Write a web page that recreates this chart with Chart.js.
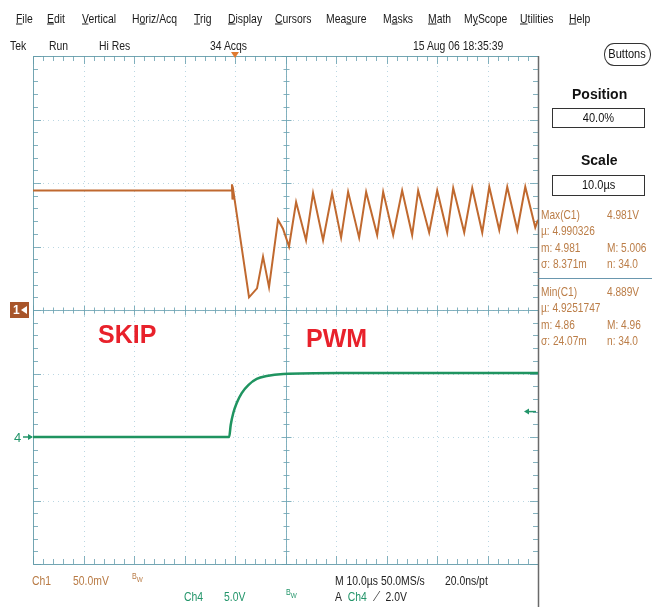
<!DOCTYPE html>
<html>
<head>
<meta charset="utf-8">
<script src="https://cdn.jsdelivr.net/npm/chart.js@4"></script>
<style>
  html,body{margin:0;padding:0;background:#fff;}
  #wrap{position:relative;width:652px;height:607px;overflow:hidden;background:#fff;
        font-family:"Liberation Sans",Arial,sans-serif;}
  #c{position:absolute;left:0;top:0;}
  .t{position:absolute;white-space:nowrap;transform:translateY(-50%) scaleX(0.8);transform-origin:left center;
     font-size:13px;color:#222;line-height:1;}
  .menu{color:#1a1a1a;}
  .meas{color:#bb7d47;transform:translateY(-50%) scaleX(0.78);}
  .ch1{color:#b87a44;}
  .ch4{color:#23956a;}
  .big{font-weight:bold;font-size:25px;color:#e8212b;transform:translateY(-50%);}
  .hdr{font-weight:bold;font-size:14px;color:#111;transform:translateY(-50%);}
  .box{position:absolute;border:1.5px solid #333;box-sizing:border-box;text-align:center;
       font-size:13px;color:#111;}
  .box span{display:inline-block;transform:scaleX(0.85);}
  .bw{font-size:9px;}
</style>
</head>
<body>
<div id="wrap">
<canvas id="c" width="652" height="607"></canvas>

<!-- menu bar -->
<div class="t menu" style="left:16px;top:18px"><u>F</u>ile</div>
<div class="t menu" style="left:47px;top:18px"><u>E</u>dit</div>
<div class="t menu" style="left:82px;top:18px"><u>V</u>ertical</div>
<div class="t menu" style="left:132px;top:18px">H<u>o</u>riz/Acq</div>
<div class="t menu" style="left:194px;top:18px"><u>T</u>rig</div>
<div class="t menu" style="left:228px;top:18px"><u>D</u>isplay</div>
<div class="t menu" style="left:275px;top:18px"><u>C</u>ursors</div>
<div class="t menu" style="left:326px;top:18px">Mea<u>s</u>ure</div>
<div class="t menu" style="left:383px;top:18px">M<u>a</u>sks</div>
<div class="t menu" style="left:428px;top:18px"><u>M</u>ath</div>
<div class="t menu" style="left:464px;top:18px">M<u>y</u>Scope</div>
<div class="t menu" style="left:520px;top:18px"><u>U</u>tilities</div>
<div class="t menu" style="left:569px;top:18px"><u>H</u>elp</div>

<!-- status row -->
<div class="t" style="left:10px;top:45px">Tek</div>
<div class="t" style="left:49px;top:45px">Run</div>
<div class="t" style="left:99px;top:45px">Hi Res</div>
<div class="t" style="left:210px;top:45px">34 Acqs</div>
<div class="t" style="left:413px;top:45px">15 Aug 06 18:35:39</div>
<div class="box" style="left:604px;top:43px;width:47px;height:23px;border-radius:10px/11px;line-height:20px;font-size:13px;"><span>Buttons</span></div>

<!-- right panel -->
<div class="t hdr" style="left:572px;top:94px">Position</div>
<div class="box" style="left:552px;top:108px;width:93px;height:20px;line-height:17px;"><span>40.0%</span></div>
<div class="t hdr" style="left:581px;top:160px">Scale</div>
<div class="box" style="left:552px;top:175px;width:93px;height:21px;line-height:18px;"><span>10.0µs</span></div>

<div class="t meas" style="left:541px;top:214px">Max(C1)</div>
<div class="t meas" style="left:607px;top:214px">4.981V</div>
<div class="t meas" style="left:541px;top:230px">µ: 4.990326</div>
<div class="t meas" style="left:541px;top:247px">m: 4.981</div>
<div class="t meas" style="left:607px;top:247px">M: 5.006</div>
<div class="t meas" style="left:541px;top:263px">σ: 8.371m</div>
<div class="t meas" style="left:607px;top:263px">n: 34.0</div>

<div class="t meas" style="left:541px;top:291px">Min(C1)</div>
<div class="t meas" style="left:607px;top:291px">4.889V</div>
<div class="t meas" style="left:541px;top:307px">µ: 4.9251747</div>
<div class="t meas" style="left:541px;top:324px">m: 4.86</div>
<div class="t meas" style="left:607px;top:324px">M: 4.96</div>
<div class="t meas" style="left:541px;top:340px">σ: 24.07m</div>
<div class="t meas" style="left:607px;top:340px">n: 34.0</div>

<!-- annotations -->
<div class="t big" style="left:98px;top:334px">SKIP</div>
<div class="t big" style="left:306px;top:338px">PWM</div>

<!-- bottom status -->
<div class="t ch1" style="left:32px;top:580px">Ch1</div>
<div class="t ch1" style="left:73px;top:580px">50.0mV</div>
<div class="t ch1 bw" style="left:132px;top:578px">B<sub style="font-size:8px">W</sub></div>
<div class="t" style="left:335px;top:580px">M 10.0µs 50.0MS/s</div>
<div class="t" style="left:445px;top:580px">20.0ns/pt</div>
<div class="t ch4" style="left:184px;top:596px">Ch4</div>
<div class="t ch4" style="left:224px;top:596px">5.0V</div>
<div class="t ch4 bw" style="left:286px;top:594px">B<sub style="font-size:8px">W</sub></div>
<div class="t" style="left:335px;top:596px">A&nbsp; <span class="ch4">Ch4</span>&nbsp; ⟋&nbsp; 2.0V</div>
</div>

<script>
// ---- Data (time in µs, trigger at 0) ----
const ch1Time  = [-40, -0.7, -0.6, -0.5, -0.3, 2.78, 4.36, 5.55, 6.74, 8.52, 9.5,
  10.7, 12.1, 14.07, 15.46, 17.44, 19.23, 21.01, 22.40, 24.58, 25.97, 28.15, 29.34,
  31.32, 33.10, 35.08, 36.27, 38.45, 40.04, 42.02, 43.21, 45.39, 46.98, 48.96, 50.35,
  52.33, 53.91, 55.90, 57.48, 59.46, 60];
const ch1Volts = [4.981, 4.981, 4.986, 4.974, 4.980, 4.897, 4.904, 4.929, 4.905, 4.958, 4.951,
  4.937, 4.972, 4.942, 4.979, 4.942, 4.979, 4.944, 4.980, 4.944, 4.980, 4.946, 4.980,
  4.946, 4.981, 4.946, 4.981, 4.948, 4.981, 4.948, 4.983, 4.948, 4.983, 4.948, 4.984,
  4.950, 4.984, 4.950, 4.984, 4.952, 4.958];
const ch4Time  = [-40, -1.15, -0.85, -0.34, 0.34, 1.33, 2.64, 4.30, 6.28, 9.57, 20.8, 60];
const ch4Volts = [0, 0, 0.94, 1.89, 2.68, 3.46, 4.09, 4.57, 4.80, 4.96, 5.04, 5.04];

// axis settings
const timeRange  = [-40, 60];        // 10 µs/div, 10 divisions, trigger at 40%
const ch1Range   = [4.687, 5.087];   // 50 mV/div, 8 divisions
const ch4Range   = [-10, 30];        // 5 V/div, 8 divisions
const ch1Offset  = 4.887;            // Ch1 reference marker level
const trigLevel  = 2.0;              // Ch4 trigger level
const timeDiv = 10, voltDiv = 5;

const orangePts = ch1Time.map((t, i) => ({x: t, y: ch1Volts[i]}));
const greenPts  = ch4Time.map((t, i) => ({x: t, y: ch4Volts[i]}));

const gridPlugin = {
  id: 'scopeGrid',
  beforeDatasetsDraw(chart) {
    const {ctx, chartArea: a, scales} = chart;
    const xs = scales.x, ys = scales.y4;
    ctx.save();
    ctx.strokeStyle = 'rgba(120,175,200,0.5)';
    ctx.lineWidth = 1;
    ctx.setLineDash([1, 4]);
    for (let t = timeRange[0] + timeDiv; t < timeRange[1]; t += timeDiv) {
      const px = Math.round(xs.getPixelForValue(t)) + 0.5;
      ctx.beginPath(); ctx.moveTo(px, a.top); ctx.lineTo(px, a.bottom); ctx.stroke();
    }
    for (let v = ch4Range[0] + voltDiv; v < ch4Range[1]; v += voltDiv) {
      const py = Math.round(ys.getPixelForValue(v)) + 0.5;
      ctx.beginPath(); ctx.moveTo(a.left, py); ctx.lineTo(a.right, py); ctx.stroke();
    }
    ctx.setLineDash([]);
    const cx = Math.round(xs.getPixelForValue((timeRange[0] + timeRange[1]) / 2)) + 0.5;
    const cy = Math.round(ys.getPixelForValue((ch4Range[0] + ch4Range[1]) / 2)) + 0.5;
    ctx.strokeStyle = 'rgba(110,165,180,0.85)';
    ctx.beginPath(); ctx.moveTo(a.left, cy); ctx.lineTo(a.right, cy); ctx.stroke();
    ctx.beginPath(); ctx.moveTo(cx, a.top); ctx.lineTo(cx, a.bottom); ctx.stroke();
    for (let t = timeRange[0]; t <= timeRange[1] + 1e-9; t += timeDiv / 5) {
      const px = Math.round(xs.getPixelForValue(t)) + 0.5;
      const major = Math.abs((t - timeRange[0]) % timeDiv) < 1e-6;
      const h = major ? 5 : 3;
      ctx.beginPath();
      ctx.moveTo(px, cy - h); ctx.lineTo(px, cy + h);
      ctx.moveTo(px, a.top); ctx.lineTo(px, a.top + (major ? 8 : 5));
      ctx.moveTo(px, a.bottom); ctx.lineTo(px, a.bottom - (major ? 8 : 5));
      ctx.stroke();
    }
    for (let v = ch4Range[0]; v <= ch4Range[1] + 1e-9; v += voltDiv / 5) {
      const py = Math.round(ys.getPixelForValue(v)) + 0.5;
      const major = Math.abs((v - ch4Range[0]) % voltDiv) < 1e-6;
      const h = major ? 5 : 3;
      ctx.beginPath();
      ctx.moveTo(cx - h, py); ctx.lineTo(cx + h, py);
      ctx.moveTo(a.left, py); ctx.lineTo(a.left + (major ? 8 : 5), py);
      ctx.moveTo(a.right, py); ctx.lineTo(a.right - (major ? 8 : 5), py);
      ctx.stroke();
    }
    ctx.strokeStyle = 'rgba(100,155,170,0.9)';
    ctx.beginPath();
    ctx.moveTo(a.right, a.top + 0.5); ctx.lineTo(a.left + 0.5, a.top + 0.5);
    ctx.lineTo(a.left + 0.5, a.bottom + 0.5); ctx.lineTo(a.right, a.bottom + 0.5);
    ctx.stroke();
    ctx.strokeStyle = '#6a6a6a';
    ctx.lineWidth = 1.5;
    ctx.beginPath(); ctx.moveTo(a.right + 0.5, a.top); ctx.lineTo(a.right + 0.5, chart.height); ctx.stroke();
    ctx.strokeStyle = 'rgba(90,140,165,0.9)';
    ctx.lineWidth = 1;
    ctx.beginPath(); ctx.moveTo(a.right, 278.5); ctx.lineTo(chart.width, 278.5); ctx.stroke();
    ctx.restore();
  },
  afterDatasetsDraw(chart) {
    const {ctx, chartArea: a, scales} = chart;
    ctx.save();
    const tx = scales.x.getPixelForValue(0);
    ctx.fillStyle = '#e07a30';
    ctx.beginPath(); ctx.moveTo(tx - 4, a.top - 4); ctx.lineTo(tx + 4, a.top - 4); ctx.lineTo(tx, a.top + 2); ctx.closePath(); ctx.fill();
    const y1 = scales.y1.getPixelForValue(ch1Offset);
    ctx.fillStyle = '#a8552a';
    ctx.fillRect(10, y1 - 8, 19, 16);
    ctx.fillStyle = '#fff';
    ctx.font = 'bold 12px "Liberation Sans", Arial, sans-serif';
    ctx.textBaseline = 'middle';
    ctx.fillText('1', 13, y1 + 1);
    ctx.beginPath(); ctx.moveTo(21, y1); ctx.lineTo(27, y1 - 4); ctx.lineTo(27, y1 + 4); ctx.closePath(); ctx.fill();
    const y4 = scales.y4.getPixelForValue(0);
    ctx.fillStyle = '#23956a';
    ctx.strokeStyle = '#23956a';
    ctx.font = '13px "Liberation Sans", Arial, sans-serif';
    ctx.fillText('4', 14, y4 + 1);
    ctx.lineWidth = 1.5;
    ctx.beginPath(); ctx.moveTo(23, y4); ctx.lineTo(32, y4); ctx.stroke();
    ctx.beginPath(); ctx.moveTo(33, y4); ctx.lineTo(28, y4 - 3); ctx.lineTo(28, y4 + 3); ctx.closePath(); ctx.fill();
    const yt = scales.y4.getPixelForValue(trigLevel);
    ctx.beginPath(); ctx.moveTo(527, yt); ctx.lineTo(536, yt); ctx.stroke();
    ctx.beginPath(); ctx.moveTo(524, yt); ctx.lineTo(529, yt - 3); ctx.lineTo(529, yt + 3); ctx.closePath(); ctx.fill();
    ctx.restore();
  }
};

new Chart(document.getElementById('c'), {
  type: 'scatter',
  data: {
    datasets: [
      { data: orangePts, yAxisID: 'y1', showLine: true, borderColor: '#c0692f',
        borderWidth: 2, pointRadius: 0, tension: 0 },
      { data: greenPts, yAxisID: 'y4', showLine: true, borderColor: '#1f9460',
        borderWidth: 2.5, pointRadius: 0, cubicInterpolationMode: 'monotone' }
    ]
  },
  options: {
    responsive: false,
    animation: false,
    layout: { padding: { left: 33, top: 56, right: 114, bottom: 43 } },
    scales: {
      x:  { type: 'linear', min: timeRange[0], max: timeRange[1], display: false },
      y1: { type: 'linear', min: ch1Range[0], max: ch1Range[1], display: false },
      y4: { type: 'linear', min: ch4Range[0], max: ch4Range[1], display: false }
    },
    plugins: { legend: { display: false }, tooltip: { enabled: false } }
  },
  plugins: [gridPlugin]
});
</script>
</body>
</html>
